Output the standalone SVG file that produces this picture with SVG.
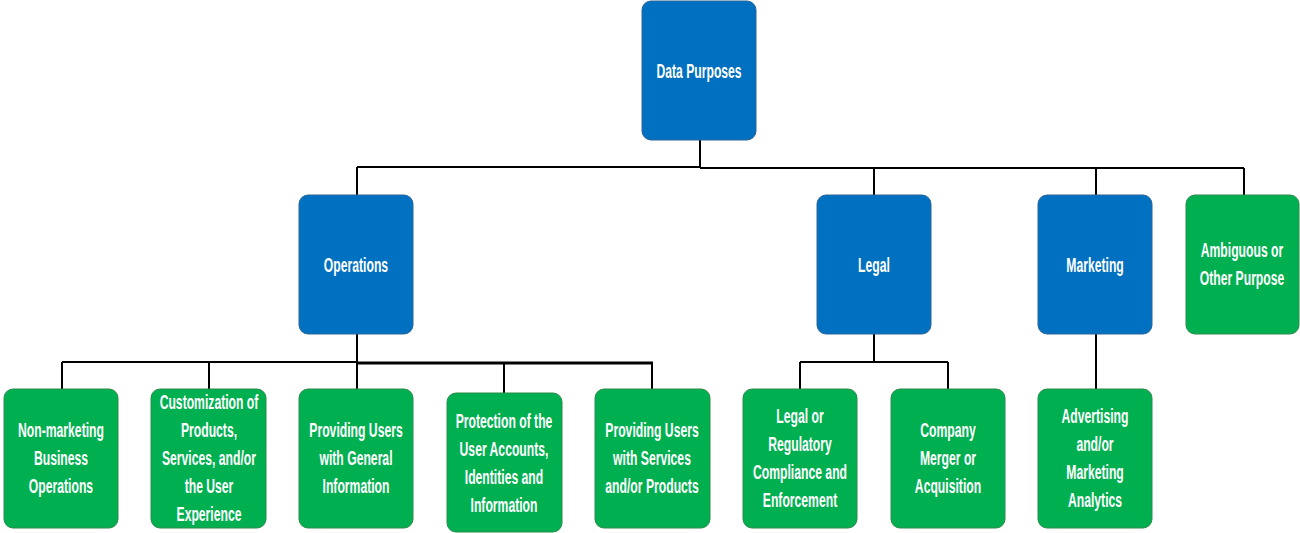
<svg xmlns="http://www.w3.org/2000/svg" width="1300" height="533" viewBox="0 0 1300 533">
<style>
.blue{fill:#0070C0;stroke:#2F6496;stroke-width:1}
.green{fill:#00B050;stroke:#2C8A4A;stroke-width:1}
.t{font-family:"Liberation Sans",Arial,sans-serif;font-weight:bold;font-size:21px;fill:#FFFFFF;text-anchor:middle}
.c{fill:none;stroke:#000000;stroke-width:2}
.c3{fill:none;stroke:#000000;stroke-width:3}
</style>
<rect width="1300" height="533" fill="#FFFFFF"/>
<g id="connectors">
<path class="c" d="M700 140 V168 M357 167 H700 M700 168 H1244 M357 167 V195 M874 168 V195 M1096 168 V195 M1244 168 V195"/>
<path class="c" d="M357 334 V362 M62 362 H357 M62 362 V389 M209 362 V389 M357 362 V389 M504 363 V393 M652 363 V389"/>
<path class="c3" d="M357 363 H653"/>
<path class="c" d="M874 334 V362 M800 362 H948 M800 362 V389 M948 362 V389"/>
<path class="c" d="M1096 334 V389"/>
</g>
<g id="data-purposes">
<rect class="blue" x="642" y="1" width="114" height="139" rx="9"/>
<g transform="translate(699,0) scale(0.58,1)"><text class="t" x="0" y="78">Data Purposes</text></g>
</g>
<g id="operations">
<rect class="blue" x="299" y="195" width="114" height="139" rx="9"/>
<g transform="translate(356,0) scale(0.58,1)"><text class="t" x="0" y="272">Operations</text></g>
</g>
<g id="legal">
<rect class="blue" x="817" y="195" width="114" height="139" rx="9"/>
<g transform="translate(874,0) scale(0.58,1)"><text class="t" x="0" y="272">Legal</text></g>
</g>
<g id="marketing">
<rect class="blue" x="1038" y="195" width="114" height="139" rx="9"/>
<g transform="translate(1095,0) scale(0.58,1)"><text class="t" x="0" y="272">Marketing</text></g>
</g>
<g id="ambiguous">
<rect class="green" x="1186" y="195" width="113" height="139" rx="9"/>
<g transform="translate(1242,0) scale(0.58,1)"><text class="t" x="0" y="257">Ambiguous or</text><text class="t" x="0" y="285">Other Purpose</text></g>
</g>
<g id="non-marketing">
<rect class="green" x="4" y="389" width="114" height="139" rx="9"/>
<g transform="translate(61,0) scale(0.58,1)"><text class="t" x="0" y="437">Non-marketing</text><text class="t" x="0" y="465">Business</text><text class="t" x="0" y="493">Operations</text></g>
</g>
<g id="customization">
<rect class="green" x="151" y="389" width="115" height="139" rx="9"/>
<g transform="translate(209,0) scale(0.58,1)"><text class="t" x="0" y="409">Customization of</text><text class="t" x="0" y="437">Products,</text><text class="t" x="0" y="465">Services, and/or</text><text class="t" x="0" y="493">the User</text><text class="t" x="0" y="521">Experience</text></g>
</g>
<g id="general-info">
<rect class="green" x="299" y="389" width="114" height="139" rx="9"/>
<g transform="translate(356,0) scale(0.58,1)"><text class="t" x="0" y="437">Providing Users</text><text class="t" x="0" y="465">with General</text><text class="t" x="0" y="493">Information</text></g>
</g>
<g id="protection">
<rect class="green" x="447" y="393" width="115" height="139" rx="9"/>
<g transform="translate(504,0) scale(0.58,1)"><text class="t" x="0" y="428">Protection of the</text><text class="t" x="0" y="456">User Accounts,</text><text class="t" x="0" y="484">Identities and</text><text class="t" x="0" y="512">Information</text></g>
</g>
<g id="services-products">
<rect class="green" x="595" y="389" width="115" height="139" rx="9"/>
<g transform="translate(652,0) scale(0.58,1)"><text class="t" x="0" y="437">Providing Users</text><text class="t" x="0" y="465">with Services</text><text class="t" x="0" y="493">and/or Products</text></g>
</g>
<g id="legal-compliance">
<rect class="green" x="743" y="389" width="114" height="139" rx="9"/>
<g transform="translate(800,0) scale(0.58,1)"><text class="t" x="0" y="423">Legal or</text><text class="t" x="0" y="451">Regulatory</text><text class="t" x="0" y="479">Compliance and</text><text class="t" x="0" y="507">Enforcement</text></g>
</g>
<g id="merger">
<rect class="green" x="891" y="389" width="114" height="139" rx="9"/>
<g transform="translate(948,0) scale(0.58,1)"><text class="t" x="0" y="437">Company</text><text class="t" x="0" y="465">Merger or</text><text class="t" x="0" y="493">Acquisition</text></g>
</g>
<g id="advertising">
<rect class="green" x="1038" y="389" width="114" height="139" rx="9"/>
<g transform="translate(1095,0) scale(0.58,1)"><text class="t" x="0" y="423">Advertising</text><text class="t" x="0" y="451">and/or</text><text class="t" x="0" y="479">Marketing</text><text class="t" x="0" y="507">Analytics</text></g>
</g>
</svg>
